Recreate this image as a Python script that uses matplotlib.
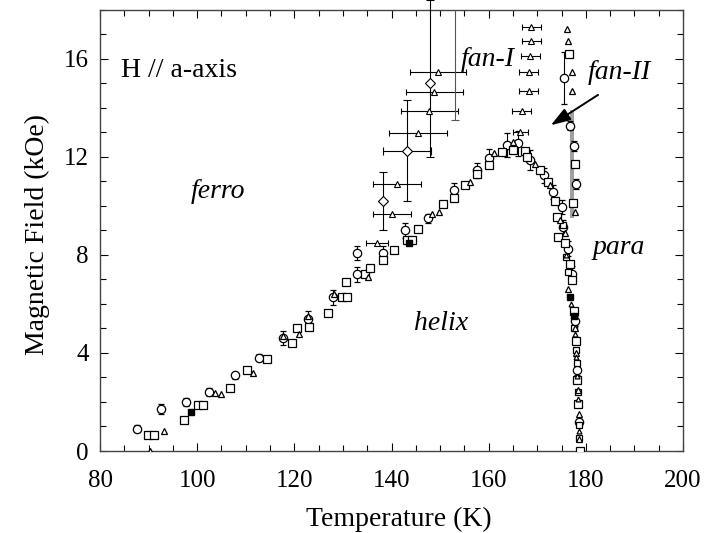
import matplotlib
matplotlib.use("Agg")
import matplotlib.pyplot as plt
import numpy as np
from matplotlib.ticker import MultipleLocator

plt.rcParams['font.family'] = ['Liberation Serif', 'DejaVu Serif']

# ---------------- data (T in K, H in kOe) ----------------
# main ferro/helix boundary: circles (with small vertical error bars)
circ_T = [87.6, 92.6, 97.6, 102.4, 107.7, 112.7, 117.6, 122.9, 128.0, 133.0, 133.0,
          138.2, 142.8, 147.6, 152.8, 157.6, 160.0, 163.8, 166.1, 168.6, 171.3,
          173.3, 175.1, 175.4, 176.4, 177.1, 177.8, 178.2, 178.6]
circ_H = [0.91, 1.71, 2.00, 2.41, 3.09, 3.80, 4.61, 5.40, 6.26, 7.20, 8.07,
          8.07, 9.00, 9.48, 10.63, 11.45, 11.93, 12.47, 12.54, 11.86, 11.24,
          10.56, 9.95, 9.13, 8.25, 7.23, 5.30, 3.30, 1.20]
circ_err = [0.15, 0.2, 0.15, 0.15, 0.15, 0.15, 0.3, 0.3, 0.3, 0.3, 0.3,
            0.3, 0.3, 0.2, 0.3, 0.3, 0.4, 0.5, 0.5, 0.4, 0.3,
            0.3, 0.3, 0.3, 0.3, 0.3, 0.2, 0.2, 0.1]

# squares
sq_T = [89.9, 91.2, 97.2, 100.2, 101.3, 106.8, 110.2, 114.3, 119.5, 120.5, 123.1,
        127.0, 129.8, 130.8, 130.6, 134.6, 135.6, 138.2, 140.5, 143.2, 144.2, 145.5,
        150.6, 152.9, 155.2, 157.7, 160.0, 162.8, 165.1, 167.5, 167.9, 170.6, 172.3,
        173.7, 174.0, 174.3, 175.8, 176.8, 177.1, 177.5, 177.9, 178.2, 178.4, 178.7]
sq_H = [0.67, 0.64, 1.28, 1.89, 1.89, 2.55, 3.29, 3.77, 4.42, 5.00, 5.04,
        5.63, 6.28, 6.28, 6.89, 7.23, 7.48, 7.78, 8.21, 8.62, 8.62, 9.07,
        10.09, 10.33, 10.84, 11.28, 11.65, 12.20, 12.26, 12.24, 11.99, 11.45, 10.97,
        10.20, 9.54, 8.73, 8.46, 7.64, 6.96, 5.70, 4.50, 2.90, 1.90, 0.00]

# extra squares packed along the steep boundary near 176-179 K
col_sq_T = [175.2, 176.0, 176.3, 177.6, 177.9, 178.1, 178.3, 178.5, 178.6]
col_sq_H = [9.20, 7.90, 7.30, 5.00, 4.10, 3.60, 2.40, 1.05, 0.55]

# small triangles on the main boundary
tri_T = [90.2, 93.2, 103.7, 104.9, 111.4, 117.6, 121.0, 122.9, 128.2, 135.2,
         148.3, 149.7, 156.1, 161.0, 165.0, 169.6, 172.7, 174.7, 175.8, 176.4,
         177.7, 178.0, 178.3, 178.5, 178.6]
tri_H = [0.00, 0.80, 2.36, 2.34, 3.16, 4.70, 4.75, 5.50, 6.40, 7.10,
         9.68, 9.75, 10.97, 12.13, 12.60, 11.72, 10.84, 9.40, 8.90, 6.62,
         5.00, 4.00, 2.50, 1.50, 0.50]

# extra triangles packed along the steep boundary
col_tri_T = [176.0, 177.0, 177.7, 178.0, 178.2, 178.4, 178.6]
col_tri_H = [8.00, 6.00, 4.75, 3.85, 3.05, 2.10, 0.80]

# filled small markers
fill_T = [98.7, 143.5, 176.8, 177.6]
fill_H = [1.57, 8.50, 6.28, 5.50]

# fan-I boundary: triangles with large horizontal error bars
f1_T = [149.6, 148.8, 147.8, 145.4, 141.1, 140.1, 137.0]
f1_H = [15.44, 14.62, 13.88, 12.95, 10.88, 9.68, 8.46]
f1_xerr = [5.8, 5.85, 5.8, 6.0, 5.0, 4.0, 2.2]

# fan-I circles with error bars
f1c_T = [148.0, 143.2, 138.2]
f1c_H = [15.00, 12.24, 10.19]
f1c_xerr = [0.0, 5.0, 0.0]
f1c_yerr_lo = [3.0, 2.05, 1.19]
f1c_yerr_hi = [3.4, 2.05, 1.19]

# lone vertical error bar (marker above the frame)
f1v_T = [153.1]
f1v_H = [18.6]
f1v_yerr_lo = [5.1]

# high-field triangles near 168 K
f1r_T = [168.8, 168.8, 168.6, 168.2, 168.2, 166.8, 166.5]
f1r_H = [17.30, 16.70, 16.10, 15.44, 14.69, 13.88, 13.00]
f1r_xerr = [2.0, 2.0, 2.0, 2.0, 2.0, 2.0, 1.5]

# fan-II column
f2t_T = [176.1, 176.4, 177.1, 177.1, 177.8]
f2t_H = [17.20, 16.70, 15.44, 14.69, 9.73]
f2s_T = [176.6, 177.8, 177.3]
f2s_H = [16.20, 11.70, 10.13]
f2c_T = [175.6, 176.8, 177.5, 178.0]
f2c_H = [15.20, 13.27, 12.45, 10.90]
f2c_err = [1.05, 0.2, 0.2, 0.2]

# shaded strip of the fan-II column
band_H = [9.5, 13.9]
band_T_left = [176.8, 176.8]
band_T_right = [177.6, 177.6]

# ---------------- figure ----------------
fig = plt.figure(figsize=(7.05, 5.33), dpi=100)
ax = fig.add_axes([100 / 705, 82 / 533, 583 / 705, 441.5 / 533])

ax.fill_betweenx(band_H, band_T_left, band_T_right, color='#a0a0a0', lw=0, zorder=1)

ekw = dict(ecolor='black', elinewidth=0.8, capsize=2.2, capthick=0.8, zorder=3)

ax.errorbar(f1_T, f1_H, xerr=f1_xerr, fmt='^', ms=4, mfc='white', mec='black',
            mew=0.8, **ekw)
ax.errorbar(f1c_T, f1c_H, xerr=f1c_xerr, yerr=[f1c_yerr_lo, f1c_yerr_hi], fmt='D',
            ms=5, mfc='white', mec='black', mew=0.8, ecolor='black', elinewidth=0.8,
            capsize=3, capthick=0.8, zorder=3, clip_on=False)
ax.errorbar(f1v_T, f1v_H, yerr=[f1v_yerr_lo, [0]], fmt='none', ecolor='#555555',
            elinewidth=0.8, capsize=3, capthick=0.8, zorder=3)
ax.errorbar(f1r_T, f1r_H, xerr=f1r_xerr, fmt='^', ms=4, mfc='white', mec='black',
            mew=0.8, **ekw)

ax.errorbar(circ_T, circ_H, yerr=circ_err, fmt='o', ms=6, mfc='white', mec='black',
            mew=0.9, **ekw)
ax.plot(sq_T, sq_H, 's', ms=5.5, mfc='white', mec='black', mew=0.9, zorder=4)
ax.plot(col_sq_T, col_sq_H, 's', ms=4.5, mfc='white', mec='black', mew=0.9, zorder=4)
ax.plot(tri_T, tri_H, '^', ms=4, mfc='white', mec='black', mew=0.9, zorder=4)
ax.plot(col_tri_T, col_tri_H, '^', ms=3.5, mfc='white', mec='black', mew=0.9, zorder=4)
ax.plot(fill_T, fill_H, 's', ms=4, mfc='black', mec='black', zorder=4)

ax.plot(f2t_T, f2t_H, '^', ms=4, mfc='white', mec='black', mew=0.9, zorder=4)
ax.plot(f2s_T, f2s_H, 's', ms=5.5, mfc='white', mec='black', mew=0.9, zorder=4)
ax.errorbar(f2c_T, f2c_H, yerr=f2c_err, fmt='o', ms=6, mfc='white', mec='black',
            mew=0.9, **ekw)

# ---------------- axes ----------------
ax.set_xlim(80, 200)
ax.set_ylim(0, 18)
ax.xaxis.set_major_locator(MultipleLocator(20))
ax.xaxis.set_minor_locator(MultipleLocator(5))
ax.yaxis.set_major_locator(MultipleLocator(4))
ax.yaxis.set_minor_locator(MultipleLocator(1))
ax.tick_params(which='both', direction='in', top=True, right=True, width=0.8)
ax.tick_params(which='major', length=6)
ax.tick_params(which='minor', length=4)
ax.tick_params(axis='x', which='major', labelsize=18, pad=14)
ax.tick_params(axis='y', which='major', labelsize=18, pad=8)
for s in ax.spines.values():
    s.set_linewidth(1.0)
    s.set_color('#444444')

ax.set_xlabel('Temperature (K)', fontsize=20, va='center')
ax.xaxis.set_label_coords(0.513, -0.156)
ax.set_ylabel('Magnetic Field (kOe)', fontsize=20, va='center')
ax.yaxis.set_label_coords(-0.108, 0.49)

# region labels
ax.text(96.3, 15.5, 'H // a-axis', fontsize=20, ha='center', va='center')
ax.text(104.3, 10.6, 'ferro', fontsize=20, style='italic', ha='center', va='center')
ax.text(159.7, 15.95, 'fan-I', fontsize=20, style='italic', ha='center', va='center')
ax.text(186.9, 15.45, 'fan-II', fontsize=20, style='italic', ha='center', va='center')
ax.text(186.7, 8.3, 'para', fontsize=20, style='italic', ha='center', va='center')
ax.text(150.2, 5.2, 'helix', fontsize=20, style='italic', ha='center', va='center')

ax.annotate('', xy=(172.3, 13.22), xytext=(183.0, 14.58),
            arrowprops=dict(arrowstyle='-|>,head_length=1.2,head_width=0.4',
                            color='black', lw=1.4))

fig.savefig('out.png', dpi=100)
